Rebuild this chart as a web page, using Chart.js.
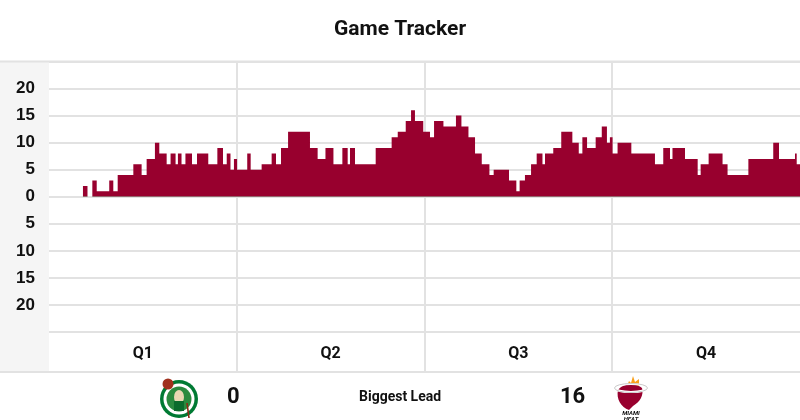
<!DOCTYPE html>
<html>
<head>
<meta charset="utf-8">
<script src="https://cdn.jsdelivr.net/npm/chart.js@4/dist/chart.umd.min.js"></script>
<style>
  html, body { margin: 0; padding: 0; background: #fff; font-family: Roboto, "Noto Sans", Arial, sans-serif; }
  #wrap { position: relative; width: 800px; height: 420px; overflow: hidden; }
  #chartBox { position: absolute; left: 0; top: 0; width: 800px; height: 372px; }
  #footer { position: absolute; left: 0; top: 371px; width: 800px; height: 49px; border-top: 2px solid #e2e2e2; box-sizing: border-box; }
  .ft { position: absolute; font-weight: 700; color: #111; white-space: nowrap; }
  #awayScore { left: 227px; top: 10px; font-size: 22px; }
  #homeScore { left: 560px; top: 10px; font-size: 22px; }
  #bl { left: 359px; top: 15px; font-size: 14px; }
  #awayLogo { position: absolute; left: 158px; top: 3px; }
  #homeLogo { position: absolute; left: 614px; top: 2px; }
</style>
</head>
<body>
<div id="wrap">
  <div id="chartBox"><canvas id="c"></canvas></div>
  <div id="footer">
    <svg id="awayLogo" width="42" height="44" viewBox="0 0 42 44">
      <circle cx="21" cy="23" r="19" fill="#007a33"/>
      <circle cx="21" cy="23" r="15.5" fill="#ffffff"/>
      <circle cx="21" cy="23" r="12.5" fill="#2a8a3e"/>
      <ellipse cx="21" cy="21" rx="5" ry="7" fill="#e9d7b3"/>
      <rect x="16" y="25" width="10" height="10" fill="#0b6b2c"/>
      <circle cx="10" cy="8" r="5.5" fill="#a0311e"/>
      <line x1="29" y1="27" x2="31" y2="42" stroke="#8a2b14" stroke-width="1.6"/>
    </svg>
    <div class="ft" id="awayScore">0</div>
    <div class="ft" id="bl">Biggest Lead</div>
    <div class="ft" id="homeScore">16</div>
    <svg id="homeLogo" width="34" height="46" viewBox="0 0 34 46">
      <path d="M19 1 L21 7 L25 4 L25 11 L13 11 L15 6 L17 8 Z" fill="#f9a01b"/>
      <path d="M4 15 C2 24 7 32 15 35 L19 31 C26 27 30 20 28 13 C23 8 9 8 4 15 Z" fill="#98002e"/>
      <ellipse cx="17" cy="13" rx="16" ry="4" fill="none" stroke="#ffffff" stroke-width="2.2"/>
      <ellipse cx="17" cy="13" rx="16.5" ry="4.5" fill="none" stroke="#bbbbbb" stroke-width="0.8"/>
      <text x="17" y="40" font-size="6" font-weight="700" font-style="italic" text-anchor="middle" fill="#111" font-family="Roboto, sans-serif">MIAMI</text>
      <text x="17" y="45.5" font-size="6" font-weight="700" font-style="italic" text-anchor="middle" fill="#111" font-family="Roboto, sans-serif">HEAT</text>
    </svg>
  </div>
</div>
<script>
// Elapsed game minutes at which the margin changes
const minutes = [0, 2.17, 2.46, 2.77, 3.05, 3.85, 4.11, 4.39, 5.39, 5.92,
  6.24, 6.77, 7.05, 7.52, 7.77, 8.09, 8.24, 8.47, 8.72, 9.14,
  9.46, 10.18, 10.76, 11.12, 11.36, 11.60, 11.82, 12.02, 12.67, 12.89,
  13.59, 14.23, 14.51, 14.83, 15.28, 16.68, 17.17, 17.67, 18.18, 18.75,
  19.09, 19.24, 19.56, 20.88, 21.90, 22.29, 22.80, 23.14, 23.39, 23.92,
  24.35, 24.61, 25.21, 26.01, 26.36, 26.81, 27.23, 27.66, 28.15, 28.42,
  29.40, 29.87, 30.08, 30.42, 30.81, 31.17, 31.54, 31.70, 32.23, 32.74,
  33.45, 33.86, 34.09, 34.39, 34.94, 35.33, 35.66, 35.85, 36.02, 36.34,
  37.22, 38.73, 39.26, 39.69, 39.85, 40.65, 41.46, 41.65, 42.16, 43.05,
  43.37, 44.70, 46.29, 46.66, 47.68, 47.79, 48];
// Heat lead (positive = Heat ahead) from that moment on
const margins = [0, 2, 0, 3, 1, 3, 1, 4, 6, 4,
  7, 10, 8, 6, 8, 6, 8, 6, 8, 6,
  8, 6, 9, 6, 8, 5, 7, 5, 8, 5,
  6, 8, 6, 9, 12, 9, 7, 9, 6, 9,
  6, 9, 6, 9, 11, 12, 14, 16, 14, 12,
  11, 14, 13, 15, 13, 11, 8, 6, 4, 5,
  3, 1, 3, 4, 6, 8, 6, 8, 9, 12,
  10, 8, 11, 9, 11, 13, 10, 11, 8, 10,
  8, 6, 9, 7, 9, 7, 4, 6, 8, 6,
  4, 7, 10, 7, 8, 6, 6];
const quarterLabels = ['Q1', 'Q2', 'Q3', 'Q4'];
const quarterMids = [6, 18, 30, 42];
const quarterEnds = [12, 24, 36];
const yTicks = [-25, -20, -15, -10, -5, 0, 5, 10, 15, 20, 25];

const points = minutes.map((m, i) => ({ x: m, y: margins[i] }));
const GRID = '#e2e2e2';

const gutter = {
  id: 'gutter',
  beforeDraw(chart) {
    const { ctx, chartArea } = chart;
    ctx.save();
    ctx.fillStyle = '#f5f5f5';
    ctx.fillRect(0, chartArea.top, chartArea.left, chart.height - chartArea.top);
    ctx.strokeStyle = GRID;
    ctx.lineWidth = 2;
    ctx.beginPath();
    ctx.moveTo(0, chartArea.top);
    ctx.lineTo(chart.width, chartArea.top);
    ctx.stroke();
    ctx.restore();
  }
};

new Chart(document.getElementById('c'), {
  type: 'line',
  data: {
    datasets: [{
      data: points,
      stepped: 'before',
      borderWidth: 0,
      pointRadius: 0,
      backgroundColor: '#98002e',
      fill: { target: 'origin', above: '#98002e', below: '#007a33' }
    }]
  },
  options: {
    responsive: true,
    maintainAspectRatio: false,
    animation: false,
    layout: { padding: 0 },
    plugins: {
      legend: { display: false },
      tooltip: { enabled: false },
      title: {
        display: true,
        text: 'Game Tracker',
        color: '#111',
        font: { family: 'Roboto', size: 21, weight: '700', lineHeight: 1.2 },
        padding: { top: 17, bottom: 19.3 }
      }
    },
    scales: {
      x: {
        type: 'linear',
        min: 0,
        max: 48,
        afterFit: s => { s.height = 40; },
        afterBuildTicks: s => {
          const vals = [0].concat(...quarterMids.map((m, i) => [m, quarterEnds[i] !== undefined ? quarterEnds[i] : 48]));
          s.ticks = vals.map(v => ({ value: v }));
        },
        border: { display: false },
        grid: {
          color: c => (c.tick && quarterEnds.includes(c.tick.value)) ? GRID : 'rgba(0,0,0,0)',
          lineWidth: 2,
          drawTicks: true,
          tickLength: 40
        },
        ticks: {
          autoSkip: false,
          maxRotation: 0,
          padding: -28,
          color: '#111',
          font: { family: 'Roboto', size: 16, weight: '700' },
          callback: v => {
            const i = quarterMids.indexOf(v);
            return i >= 0 ? quarterLabels[i] : '';
          }
        }
      },
      y: {
        min: -25,
        max: 25,
        afterFit: s => { s.width = 49; },
        afterBuildTicks: s => { s.ticks = yTicks.map(v => ({ value: v })); },
        border: { display: false },
        grid: { color: GRID, lineWidth: 2, drawTicks: false },
        ticks: {
          padding: 14,
          color: '#111',
          font: { family: '"Liberation Sans", Arial, sans-serif', size: 17, weight: '700' },
          callback: v => Math.abs(v) === 25 ? '' : String(Math.abs(v))
        }
      }
    }
  },
  plugins: [gutter]
});
</script>
</body>
</html>
